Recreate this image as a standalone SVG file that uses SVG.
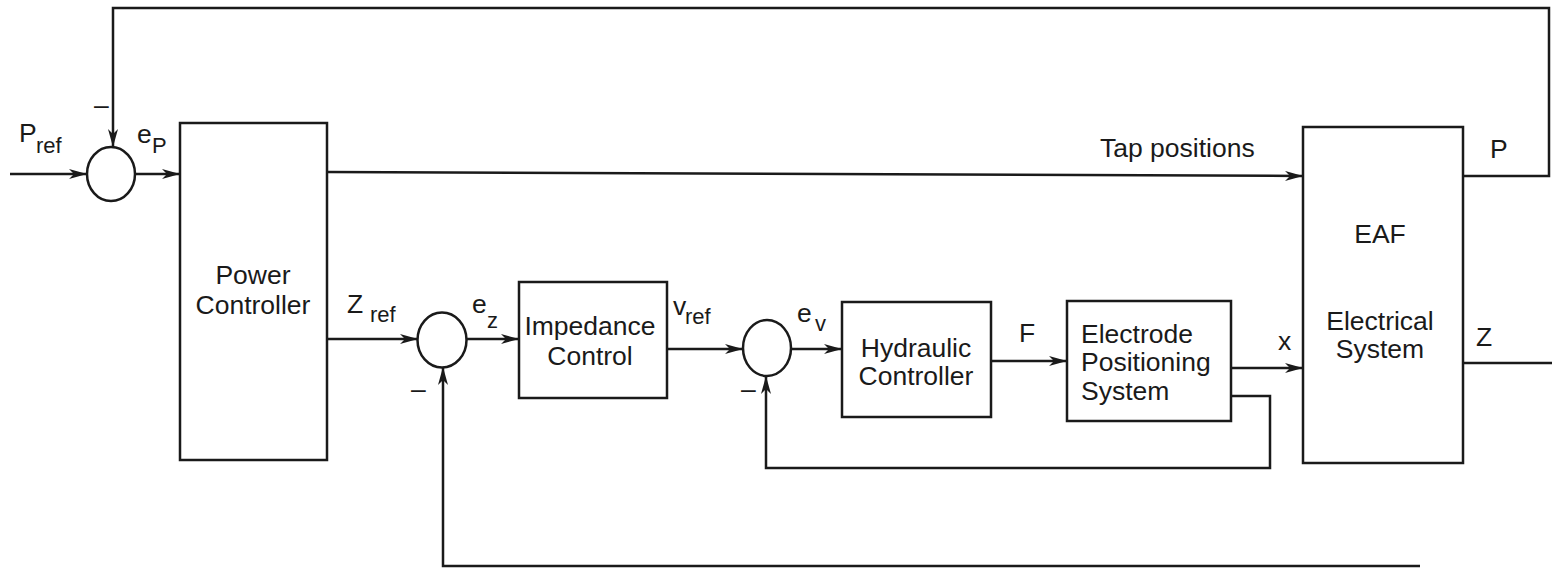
<svg xmlns="http://www.w3.org/2000/svg" width="1552" height="569" viewBox="0 0 1552 569">
<style>
  .box { fill: #fff; stroke: #1a1a1a; stroke-width: 2.5; }
  .sum { fill: #fff; stroke: #1a1a1a; stroke-width: 2.5; }
  .wire { fill: none; stroke: #1a1a1a; stroke-width: 2.5; }
  .arr { marker-end: url(#ah); }
  text { font-family: "Liberation Sans", Arial, sans-serif; fill: #1a1a1a; }
  .lbl { font-size: 26.5px; }
  .sub { font-size: 22px; }
  .c { text-anchor: middle; }
</style>
<defs>
  <marker id="ah" viewBox="0 0 18 10" refX="18" refY="5" markerWidth="18" markerHeight="10" markerUnits="userSpaceOnUse" orient="auto">
    <path d="M0,0 L18,5 L0,10 L5,5 z" fill="#1a1a1a"/>
  </marker>
</defs>
<rect width="1552" height="569" fill="#fff"/>

<g id="connectors">
  <path class="wire arr" d="M10,174 H87"/>
  <path class="wire arr" d="M135,174 H180"/>
  <path class="wire arr" d="M1463,176 H1549 V8 H113 V147"/>
  <path class="wire arr" d="M327,172 L1303,176"/>
  <path class="wire arr" d="M327,339 H418"/>
  <path class="wire arr" d="M467,339 H519"/>
  <path class="wire arr" d="M667,349 H743"/>
  <path class="wire arr" d="M791,349 H842"/>
  <path class="wire arr" d="M991,361 H1067"/>
  <path class="wire arr" d="M1231,368 H1303"/>
  <path class="wire arr" d="M1231,396 H1270 V468 H766 V376"/>
  <path class="wire" d="M1463,363 H1552"/>
  <path class="wire arr" d="M1420,566 H443 V367"/>
</g>

<g id="sum1">
  <ellipse class="sum" cx="111" cy="174" rx="24" ry="27"/>
</g>
<g id="sum2">
  <ellipse class="sum" cx="442" cy="340" rx="24.5" ry="27.5"/>
</g>
<g id="sum3">
  <ellipse class="sum" cx="767" cy="348" rx="24" ry="28"/>
</g>

<g id="power-controller">
  <rect class="box" x="180" y="123" width="147" height="337"/>
  <text class="lbl c" x="253" y="284">Power</text>
  <text class="lbl c" x="253" y="314">Controller</text>
</g>
<g id="impedance-control">
  <rect class="box" x="519" y="282" width="148" height="116"/>
  <text class="lbl c" x="590" y="335">Impedance</text>
  <text class="lbl c" x="590" y="365">Control</text>
</g>
<g id="hydraulic-controller">
  <rect class="box" x="842" y="302" width="149" height="115"/>
  <text class="lbl c" x="916" y="357">Hydraulic</text>
  <text class="lbl c" x="916" y="385">Controller</text>
</g>
<g id="electrode-positioning">
  <rect class="box" x="1067" y="301" width="164" height="120"/>
  <text class="lbl" x="1081" y="343">Electrode</text>
  <text class="lbl" x="1081" y="371">Positioning</text>
  <text class="lbl" x="1081" y="400">System</text>
</g>
<g id="eaf">
  <rect class="box" x="1303" y="127" width="160" height="336"/>
  <text class="lbl c" x="1380" y="243">EAF</text>
  <text class="lbl c" x="1380" y="330">Electrical</text>
  <text class="lbl c" x="1380" y="358">System</text>
</g>

<g id="labels">
  <text class="lbl" x="19" y="142">P</text>
  <text class="sub" x="36" y="153">ref</text>
  <text class="lbl" x="94" y="114">–</text>
  <text class="lbl" x="137" y="143">e</text>
  <text class="sub" x="152" y="153">P</text>
  <text class="lbl" x="1100" y="157">Tap positions</text>
  <text class="lbl" x="1490" y="158">P</text>
  <text class="lbl" x="347" y="313">Z</text>
  <text class="sub" x="370" y="322">ref</text>
  <text class="lbl" x="472" y="313">e</text>
  <text class="sub" x="487" y="328">z</text>
  <text class="lbl" x="411" y="398">–</text>
  <text class="lbl" x="673" y="315">v</text>
  <text class="sub" x="685" y="324">ref</text>
  <text class="lbl" x="797" y="322">e</text>
  <text class="sub" x="815" y="331">v</text>
  <text class="lbl" x="741" y="398">–</text>
  <text class="lbl" x="1019" y="342">F</text>
  <text class="lbl" x="1278" y="350">x</text>
  <text class="lbl" x="1476" y="346">Z</text>
</g>
</svg>
